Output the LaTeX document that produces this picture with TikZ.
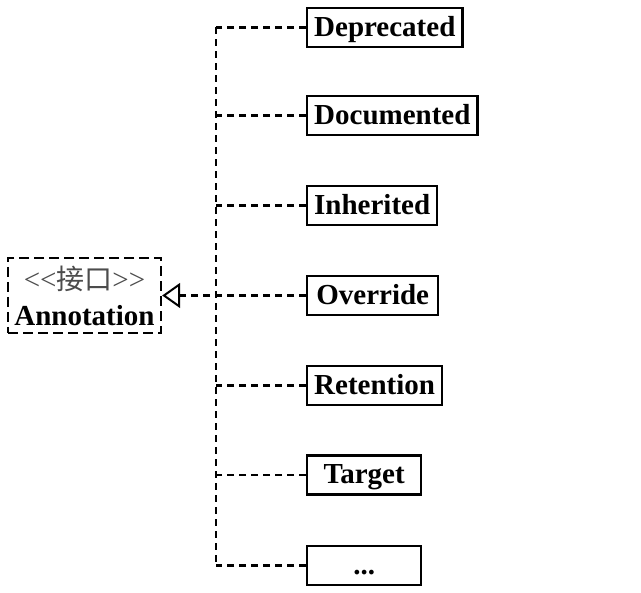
\documentclass[tikz,border=0pt]{standalone}
\usepackage{fontspec}
\setmainfont{Liberation Serif}
\newfontfamily\cjk{Noto Sans CJK SC}
\usetikzlibrary{arrows.meta}
\begin{document}
\begin{tikzpicture}[x=1pt,y=-1pt,
  cls/.style={draw, line width=2.4pt, font=\fontsize{29}{32}\selectfont\bfseries,
    inner xsep=7pt, inner ysep=0pt, minimum height=39pt, text height=22.5pt, text depth=4.5pt, anchor=west},
  link/.style={line width=2.2pt, dash pattern=on 7pt off 5pt},
]
\useasboundingbox (0,0) rectangle (641,593);
\node[cls] (dep) at (306,27.5) {Deprecated};
\node[cls] (doc) at (306,115.5) {Documented};
\node[cls] (inh) at (306,205.5) {Inherited};
\node[cls, minimum width=131pt] (ovr) at (306,295.5) {Override};
\node[cls] (ret) at (306,385.5) {Retention};
\node[cls, minimum width=114pt] (tgt) at (306,475) {Target};
\node[cls, minimum width=114pt] (etc) at (306,565.5) {...};
\node[draw, line width=2.4pt, dash pattern=on 10pt off 5pt, minimum width=153pt, minimum height=75pt,
  align=center, inner sep=0pt, font=\fontsize{29}{36}\selectfont] (ann) at (84.5,295.5)
  {\textcolor[gray]{0.3}{<\kern0pt<{\cjk\fontsize{28}{36}\selectfont 接口}>\kern0pt>}\\\textbf{Annotation}};
\coordinate (bus) at (216,0);
\draw[link] (dep.west -| bus) -- (etc.west -| bus);
\foreach \n in {dep,doc,inh,ret,tgt,etc} \draw[link] (\n.west) -- (\n.west -| bus);
\draw[link, -{Triangle[open, length=18pt, width=25pt, line width=2pt]}] (ovr.west) -- (ann.east);
\end{tikzpicture}
\end{document}
